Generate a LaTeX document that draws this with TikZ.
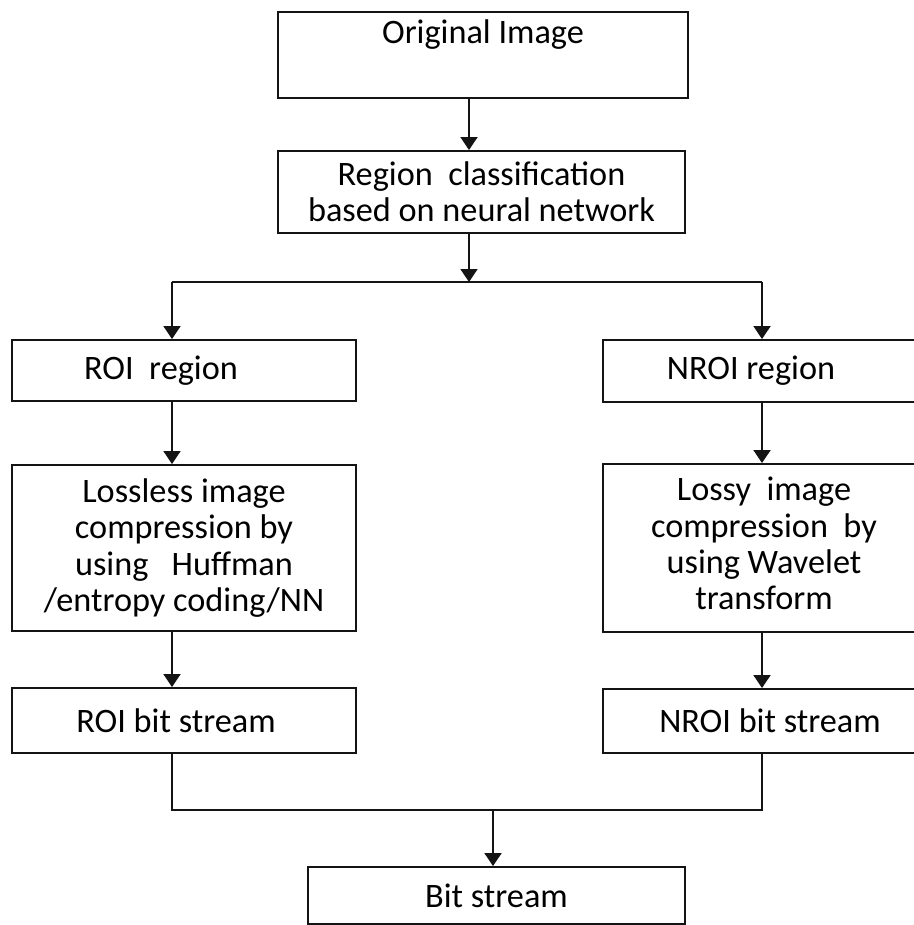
\documentclass[tikz,border=0pt]{standalone}
\usepackage{fontspec}
\setmainfont{Carlito}
\usetikzlibrary{arrows.meta}

\begin{document}
\begin{tikzpicture}[x=0.2mm, y=-0.2mm,
    box/.style={draw=boxline, line width=1.1pt, align=center, inner sep=0pt,
      font=\fontsize{19.5}{20.7}\selectfont},
    flow/.style={draw=boxline, line width=1.1pt, -{Triangle[length=2.6mm, width=3.4mm]}}]
      % Page frame, right column runs off the edge
      \useasboundingbox (0,0) rectangle (914,925);
      \clip (0,0) rectangle (914,925);

      % Define box sizes
      \def\leftwidth{68.8mm}
      \def\rightwidth{80mm}

      % Define colors
      \definecolor{boxline}{RGB}{20,20,20}

      % Top boxes
      \node[box, minimum width=82mm, text height=18pt, text depth=30.8pt] (orig) at (483,55) {Original Image};
      \node[box, minimum width=81.4mm, minimum height=16.4mm] (region) at (481.5,192) {Region~ classification\\based on neural network};

      % Left column
      \node[box, minimum width=\leftwidth, minimum height=12.2mm] (roi) at (184,370.5) {ROI~ region\hspace*{9.2mm}};
      \node[box, minimum width=\leftwidth, minimum height=33.2mm] (lossless) at (184,548) {Lossless image\\compression by\\using~~ Huffman\\/entropy coding/NN};
      \node[box, minimum width=\leftwidth, minimum height=13mm] (roibit) at (184,720.5) {ROI bit stream\hspace*{3.2mm}};

      % Right column (cut by the page edge)
      \node[box, anchor=west, minimum width=\rightwidth, minimum height=12.4mm] (nroi) at (602,371) {NROI region\hspace*{20.8mm}};
      \node[box, anchor=west, minimum width=\rightwidth, minimum height=33.6mm] (lossy) at (602,548)
        {\begin{tabular}{@{}c@{}}Lossy~ image\\compression~ by\\using Wavelet\\transform\end{tabular}\hspace*{15.6mm}};
      \node[box, anchor=west, minimum width=\rightwidth, minimum height=12.8mm] (nroibit) at (602,721) {NROI bit stream\hspace*{13.2mm}};

      % Output box
      \node[box, minimum width=75.4mm, minimum height=11.4mm] (bits) at (496.5,895.5) {Bit stream};

      % Branch points
      \coordinate (split) at (469,282);
      \coordinate (splitL) at (172,282);
      \coordinate (splitR) at (762,282);
      \coordinate (joinL) at (172,810);
      \coordinate (joinR) at (762,810);
      \coordinate (join) at (493,810);

      % Connecting arrows
      \draw[flow] (orig.south -| split) -- (region.north -| split);
      \draw[flow] (region.south -| split) -- (split);
      \draw[draw=boxline, line width=1.1pt] (splitL) -- (splitR);
      \draw[flow] (splitL) -- (roi.north -| splitL);
      \draw[flow] (splitR) -- (nroi.north -| splitR);
      \draw[flow] (roi.south -| splitL) -- (lossless.north -| splitL);
      \draw[flow] (nroi.south -| splitR) -- (lossy.north -| splitR);
      \draw[flow] (lossless.south -| splitL) -- (roibit.north -| splitL);
      \draw[flow] (lossy.south -| splitR) -- (nroibit.north -| splitR);

      % Merge
      \draw[draw=boxline, line width=1.1pt] (roibit.south -| joinL) -- (joinL) -- (joinR) -- (nroibit.south -| joinR);
      \draw[flow] (join) -- (bits.north -| join);

    \end{tikzpicture}
\end{document}
